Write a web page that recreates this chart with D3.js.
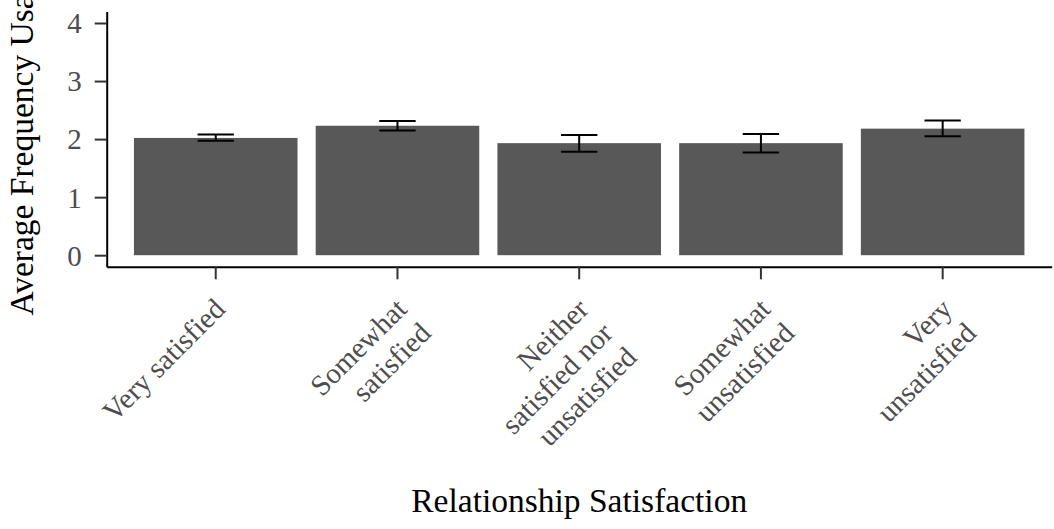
<!DOCTYPE html>
<html>
<head>
<meta charset="utf-8">
<script src="https://cdn.jsdelivr.net/npm/d3@7"></script>
<style>
  html, body { margin: 0; padding: 0; background: #ffffff; }
  svg { display: block; }
</style>
</head>
<body>
<svg id="chart" width="1054" height="529"></svg>
<script>
// Relationship satisfaction groups (each label split into its display lines)
const categories = ["Very satisfied", "Somewhat satisfied", "Neither satisfied nor unsatisfied", "Somewhat unsatisfied", "Very unsatisfied"];
const categoryLines = [
  ["Very satisfied"],
  ["Somewhat", "satisfied"],
  ["Neither", "satisfied nor", "unsatisfied"],
  ["Somewhat", "unsatisfied"],
  ["Very", "unsatisfied"]
];
// Mean usage frequency and interval bounds per group
const meanUsage = [2.02, 2.23, 1.93, 1.93, 2.18];
const lowerBound = [1.97, 2.15, 1.78, 1.77, 2.05];
const upperBound = [2.08, 2.31, 2.07, 2.09, 2.32];
const yTicks = [0, 1, 2, 3, 4];

const svg = d3.select("#chart");
const panel = { left: 106.7, right: 1051.7, top: 11.4, bottom: 266.8 };

const x = d3.scaleBand()
  .domain(categories)
  .range([panel.left, panel.right])
  .paddingInner(0.1)
  .paddingOuter(0.15);

const y = d3.scaleLinear()
  .domain([-0.2, 4.2])
  .range([panel.bottom, panel.top]);

const font = "'Liberation Serif', 'Times New Roman', serif";

// Bars
svg.append("g")
  .selectAll("rect")
  .data(categories)
  .join("rect")
  .attr("x", d => x(d))
  .attr("width", x.bandwidth())
  .attr("y", (d, i) => y(meanUsage[i]))
  .attr("height", (d, i) => y(0) - y(meanUsage[i]))
  .attr("fill", "#585858");

// Error bars
const capHalf = x.step() * 0.1;
const eb = svg.append("g")
  .attr("stroke", "#000")
  .attr("stroke-width", 2)
  .attr("fill", "none");
categories.forEach((c, i) => {
  const cx = x(c) + x.bandwidth() / 2;
  const path = d3.path();
  path.moveTo(cx - capHalf, y(upperBound[i]));
  path.lineTo(cx + capHalf, y(upperBound[i]));
  path.moveTo(cx, y(upperBound[i]));
  path.lineTo(cx, y(lowerBound[i]));
  path.moveTo(cx - capHalf, y(lowerBound[i]));
  path.lineTo(cx + capHalf, y(lowerBound[i]));
  eb.append("path").attr("d", path.toString());
});

// Y axis
const yAxis = svg.append("g")
  .attr("transform", `translate(${panel.left},0)`)
  .call(d3.axisLeft(y).tickValues(yTicks).tickFormat(d3.format("d")).tickSize(12).tickSizeOuter(0).tickPadding(13));
yAxis.select(".domain").attr("stroke", "#000").attr("stroke-width", 2);
yAxis.selectAll(".tick line").attr("stroke", "#333").attr("stroke-width", 2);
yAxis.selectAll(".tick text")
  .attr("font-family", font)
  .attr("font-size", 29)
  .attr("fill", "#4d4d4d")
  .attr("dy", "0.34em");

// X axis
const xAxis = svg.append("g")
  .attr("transform", `translate(0,${panel.bottom})`)
  .call(d3.axisBottom(x).tickSize(12.5).tickSizeOuter(0));
xAxis.select(".domain").attr("stroke", "#000").attr("stroke-width", 2);
xAxis.selectAll(".tick line").attr("stroke", "#333").attr("stroke-width", 2);
xAxis.selectAll(".tick text").each(function (d, i) {
  const t = d3.select(this);
  t.text(null)
    .attr("y", null).attr("dy", null)
    .attr("font-family", font)
    .attr("font-size", 29)
    .attr("fill", "#4d4d4d")
    .attr("text-anchor", "end")
    .attr("transform", "translate(11,44) rotate(-45)");
  categoryLines[i].forEach((line, k) => {
    t.append("tspan").attr("x", 0).attr("y", k * 34).text(line);
  });
});

// Axis titles
svg.append("text")
  .attr("x", (panel.left + panel.right) / 2)
  .attr("y", 512)
  .attr("text-anchor", "middle")
  .attr("font-family", font)
  .attr("font-size", 33.5)
  .attr("fill", "#000")
  .text("Relationship Satisfaction");

svg.append("text")
  .attr("transform", `translate(33,${(panel.top + panel.bottom) / 2}) rotate(-90)`)
  .attr("text-anchor", "middle")
  .attr("font-family", font)
  .attr("font-size", 33.5)
  .attr("fill", "#000")
  .text("Average Frequency Usage");
</script>
</body>
</html>
